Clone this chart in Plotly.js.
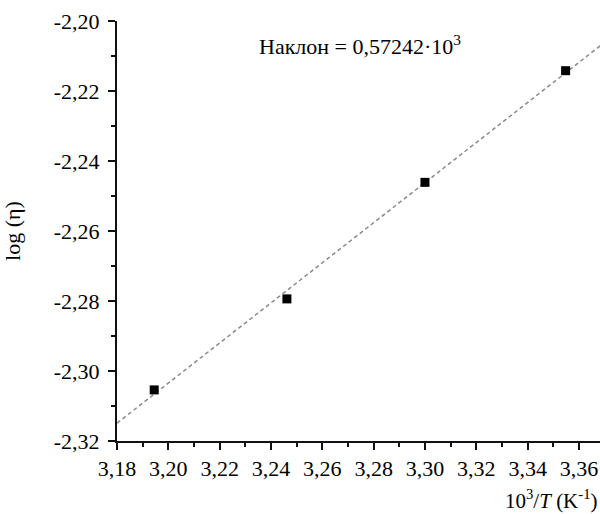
<!DOCTYPE html>
<html>
<head>
<meta charset="utf-8">
<script src="https://cdn.plot.ly/plotly-3.0.1.min.js"></script>
<style>html,body{margin:0;padding:0;background:#fff;}#chart{width:600px;height:514px;}</style>
</head>
<body>
<div id="chart"></div>
<script>
// Data
const invT = [3.1945, 3.2462, 3.3000, 3.3548];       // 10^3/T (K^-1)
const logEta = [-2.3054, -2.2794, -2.2461, -2.2142];  // log(eta)
const fitX = [3.18, 3.37];
const fitY = [-2.3149, -2.2061];
const xTickVals = [3.18, 3.20, 3.22, 3.24, 3.26, 3.28, 3.30, 3.32, 3.34, 3.36];
const xTickText = ['3,18', '3,20', '3,22', '3,24', '3,26', '3,28', '3,30', '3,32', '3,34', '3,36'];
const yTickVals = [-2.32, -2.30, -2.28, -2.26, -2.24, -2.22, -2.20];
const yTickText = ['-2,32', '-2,30', '-2,28', '-2,26', '-2,24', '-2,22', '-2,20'];
const slopeText = 'Наклон = 0,57242·10<sup>3</sup>';
const xTitle = '10<sup>3</sup>/<i>T</i> (K<sup>-1</sup>)';
const yTitle = 'log (η)';

const font = 'Liberation Serif, Times New Roman, serif';

const traces = [
  {x: fitX, y: fitY, mode: 'lines', type: 'scatter',
   line: {color: '#8a8a8a', width: 1.5, dash: '4px,3px'}, hoverinfo: 'skip'},
  {x: invT, y: logEta, mode: 'markers', type: 'scatter',
   marker: {symbol: 'square', size: 9, color: '#000'}}
];

const layout = {
  width: 600, height: 514,
  margin: {l: 117, r: 0, t: 21, b: 73},
  paper_bgcolor: '#fff', plot_bgcolor: '#fff',
  showlegend: false,
  font: {family: font, size: 22, color: '#000'},
  xaxis: {
    range: [3.18, 3.3682], tickmode: 'array', tickvals: xTickVals, ticktext: xTickText,
    showgrid: false, zeroline: false,
    showline: true, linecolor: '#111', linewidth: 2,
    ticks: 'outside', ticklen: 7, tickwidth: 2, tickcolor: '#111',
    minor: {dtick: 0.01, tick0: 3.18, ticks: 'outside', ticklen: 4, tickwidth: 2, tickcolor: '#111'},
    tickfont: {family: font, size: 22, color: '#000'}
  },
  yaxis: {
    range: [-2.32, -2.20], tickmode: 'array', tickvals: yTickVals, ticktext: yTickText,
    showgrid: false, zeroline: false,
    showline: true, linecolor: '#111', linewidth: 2,
    ticks: 'outside', ticklen: 7, tickwidth: 2, tickcolor: '#111', ticklabelstandoff: 4,
    minor: {dtick: 0.01, tick0: -2.32, ticks: 'outside', ticklen: 4, tickwidth: 2, tickcolor: '#111'},
    tickfont: {family: font, size: 22, color: '#000'},
    title: {text: yTitle, font: {family: font, size: 22, color: '#000'}, standoff: 28}
  },
  annotations: [
    {xref: 'paper', yref: 'paper', x: 0.29, y: 0.943, xanchor: 'left', yanchor: 'middle',
     text: slopeText, showarrow: false, font: {family: font, size: 22, color: '#000'}},
    {xref: 'paper', yref: 'paper', x: 1, y: -0.14, xanchor: 'right', yanchor: 'middle',
     text: xTitle, showarrow: false, font: {family: font, size: 21, color: '#000'}}
  ]
};

Plotly.newPlot('chart', traces, layout, {staticPlot: true, displayModeBar: false});
</script>
</body>
</html>
